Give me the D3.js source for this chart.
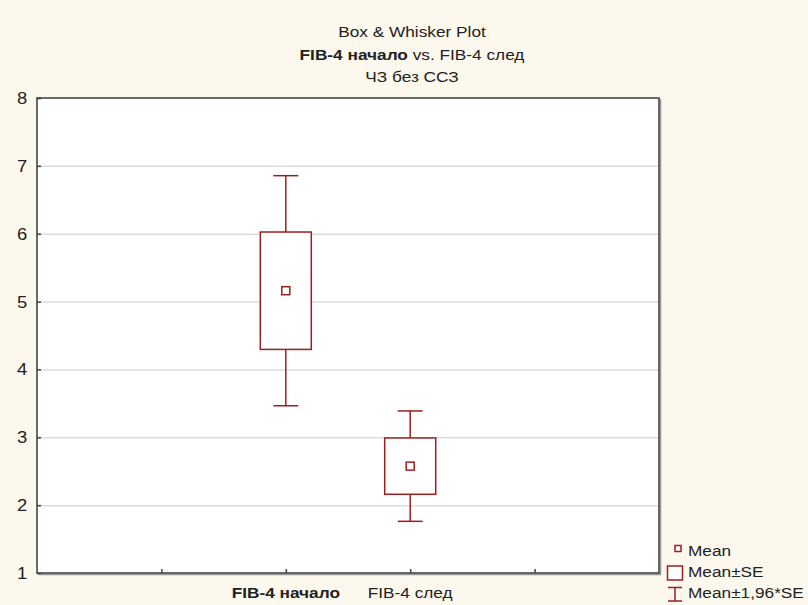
<!DOCTYPE html>
<html>
<head>
<meta charset="utf-8">
<script src="https://cdn.jsdelivr.net/npm/d3@7"></script>
<style>
  html, body { margin: 0; padding: 0; background: #fdf8ed; }
  svg { display: block; font-family: "Liberation Sans", Arial, sans-serif; }
</style>
</head>
<body>
<svg id="chart" width="808" height="605"></svg>
<script>
// Categories and their summary statistics
const categories = ["FIB-4 начало", "FIB-4 след"];
const categoryBold = [true, false];
const means = [5.16, 2.575];
const standardErrors = [0.865, 0.415];
const ciFactor = 1.96;
const yTicks = [1, 2, 3, 4, 5, 6, 7, 8];
const titleLines = ["Box & Whisker Plot", "ЧЗ без ССЗ"];
const legendLabels = ["Mean", "Mean±SE", "Mean±1,96*SE"];

const color = "#9a2020";
const textColor = "#222";
const stretch = 1.15;   // the chart's typeface runs slightly wide
const svg = d3.select("#chart");
const plot = { left: 37, right: 659, top: 98, bottom: 573 };

// x: 5 equal slots, categories at positions 2 and 3, ticks at 1..4
const x = d3.scaleLinear().domain([0, 5]).range([plot.left, plot.right]);
const catPos = [2, 3];
const y = d3.scaleLinear().domain([1, 8]).range([plot.bottom, plot.top]);

// place a horizontally widened text label
function label(parent, px, py, anchor, size) {
  return parent.append("g")
    .attr("transform", `translate(${px},${py}) scale(${stretch},1)`)
    .append("text")
    .attr("text-anchor", anchor)
    .attr("font-size", size)
    .attr("fill", textColor);
}

// plot background
svg.append("rect")
  .attr("x", plot.left).attr("y", plot.top)
  .attr("width", plot.right - plot.left).attr("height", plot.bottom - plot.top)
  .attr("fill", "#ffffff");

// horizontal grid lines
svg.append("g").selectAll("line")
  .data(yTicks.filter(t => t > 1 && t < 8))
  .join("line")
  .attr("x1", plot.left).attr("x2", plot.right)
  .attr("y1", d => y(d) + 0.5).attr("y2", d => y(d) + 0.5)
  .attr("stroke", "#dcdcdc").attr("stroke-width", 1.5);

// y axis (ticks inward)
const yAxis = svg.append("g")
  .attr("transform", `translate(${plot.left},0)`)
  .call(d3.axisLeft(y).tickValues(yTicks).tickSize(-4).tickFormat(""));
yAxis.select(".domain").remove();
yAxis.selectAll(".tick line").attr("stroke", "#444").attr("stroke-width", 1.5);
const yLabels = svg.append("g");
yTicks.forEach(t => {
  label(yLabels, 22, y(t) + 6, "middle", 16).text(d3.format("d")(t));
});

// x axis ticks (inward)
const xAxis = svg.append("g")
  .attr("transform", `translate(0,${plot.bottom})`)
  .call(d3.axisBottom(x).tickValues([1, 2, 3, 4]).tickSize(-4).tickFormat(""));
xAxis.select(".domain").remove();
xAxis.selectAll(".tick line").attr("stroke", "#444").attr("stroke-width", 1.5);

// category labels
const xLabels = svg.append("g");
categories.forEach((c, i) => {
  label(xLabels, x(catPos[i]), 598, "middle", 15)
    .attr("font-weight", categoryBold[i] ? "bold" : "normal")
    .text(c);
});

// frame with a subtle shadow on right/bottom
svg.append("path")
  .attr("d", `M${plot.left + 1},${plot.bottom + 1.5}H${plot.right + 1.5}V${plot.top + 1}`)
  .attr("fill", "none").attr("stroke", "#999").attr("stroke-width", 1.5);
svg.append("rect")
  .attr("x", plot.left).attr("y", plot.top)
  .attr("width", plot.right - plot.left).attr("height", plot.bottom - plot.top)
  .attr("fill", "none").attr("stroke", "#3a3a3a").attr("stroke-width", 1.5);

// boxes and whiskers
const boxW = 51, capW = 25, meanSize = 8;
const groups = svg.append("g").selectAll("g")
  .data(categories.map((c, i) => ({ c, i, m: means[i], se: standardErrors[i] })))
  .join("g");

groups.append("line")
  .attr("x1", d => x(catPos[d.i])).attr("x2", d => x(catPos[d.i]))
  .attr("y1", d => y(d.m + ciFactor * d.se)).attr("y2", d => y(d.m - ciFactor * d.se))
  .attr("stroke", color).attr("stroke-width", 1.5);
groups.selectAll(".cap")
  .data(d => [d.m + ciFactor * d.se, d.m - ciFactor * d.se].map(v => ({ v, i: d.i })))
  .join("line")
  .attr("class", "cap")
  .attr("x1", d => x(catPos[d.i]) - capW / 2).attr("x2", d => x(catPos[d.i]) + capW / 2)
  .attr("y1", d => y(d.v)).attr("y2", d => y(d.v))
  .attr("stroke", color).attr("stroke-width", 1.5);
groups.append("rect")
  .attr("x", d => x(catPos[d.i]) - boxW / 2)
  .attr("y", d => y(d.m + d.se))
  .attr("width", boxW)
  .attr("height", d => y(d.m - d.se) - y(d.m + d.se))
  .attr("fill", "#ffffff").attr("stroke", color).attr("stroke-width", 1.5);
groups.append("rect")
  .attr("x", d => x(catPos[d.i]) - meanSize / 2)
  .attr("y", d => y(d.m) - meanSize / 2)
  .attr("width", meanSize).attr("height", meanSize)
  .attr("fill", "#ffffff").attr("stroke", color).attr("stroke-width", 1.5);

// title
const titleG = svg.append("g");
label(titleG, 412, 37, "middle", 15).text(titleLines[0]);
const t2 = label(titleG, 412, 60, "middle", 15);
t2.append("tspan").attr("font-weight", "bold").text(categories[0]);
t2.append("tspan").text(" vs. " + categories[1]);
label(titleG, 412, 82, "middle", 15).text(titleLines[1]);

// legend
const lg = svg.append("g");
lg.append("rect").attr("x", 675).attr("y", 545.5).attr("width", 6).attr("height", 6)
  .attr("fill", "#fff").attr("stroke", color).attr("stroke-width", 1.5);
lg.append("rect").attr("x", 667.5).attr("y", 566).attr("width", 15).attr("height", 14)
  .attr("fill", "#fff").attr("stroke", color).attr("stroke-width", 1.5);
lg.append("path").attr("d", "M668,587.5H682M675,587.5V601M668,601H682")
  .attr("fill", "none").attr("stroke", color).attr("stroke-width", 1.5);
legendLabels.forEach((d, i) => {
  label(lg, 688, [556, 577, 598][i], "start", 15).text(d);
});
</script>
</body>
</html>
